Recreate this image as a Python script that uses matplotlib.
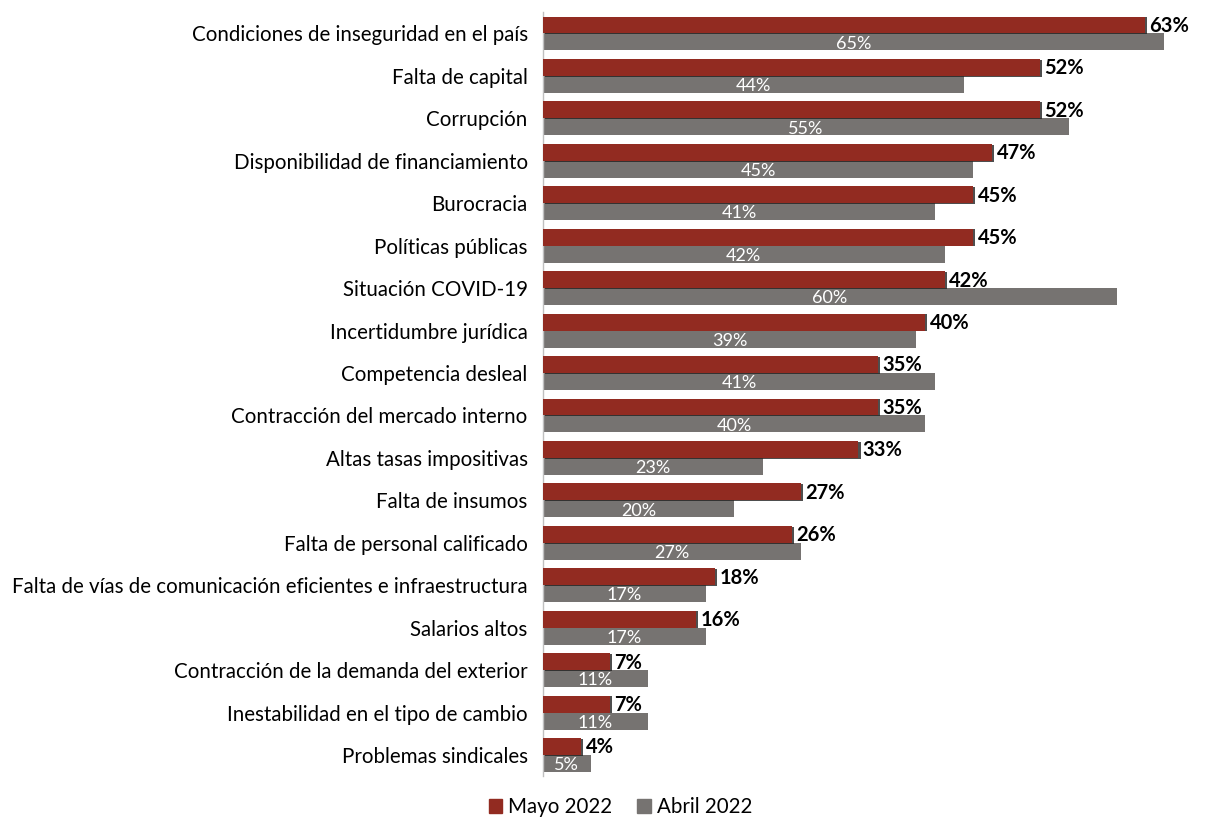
import matplotlib
matplotlib.use("Agg")
import matplotlib.pyplot as plt
import matplotlib.patheffects as pe
import matplotlib.patches as mpatches
import numpy as np

plt.rcParams['font.family'] = ['Lato', 'DejaVu Sans']

categories = [
    "Condiciones de inseguridad en el país",
    "Falta de capital",
    "Corrupción",
    "Disponibilidad de financiamiento",
    "Burocracia",
    "Políticas públicas",
    "Situación COVID-19",
    "Incertidumbre jurídica",
    "Competencia desleal",
    "Contracción del mercado interno",
    "Altas tasas impositivas",
    "Falta de insumos",
    "Falta de personal calificado",
    "Falta de vías de comunicación eficientes e infraestructura",
    "Salarios altos",
    "Contracción de la demanda del exterior",
    "Inestabilidad en el tipo de cambio",
    "Problemas sindicales",
]
mayo_2022 = [63, 52, 52, 47, 45, 45, 42, 40, 35, 35, 33, 27, 26, 18, 16, 7, 7, 4]
abril_2022 = [65, 44, 55, 45, 41, 42, 60, 39, 41, 40, 23, 20, 27, 17, 17, 11, 11, 5]
series_names = ["Mayo 2022", "Abril 2022"]

red = "#922B21"
gray = "#767371"

fig = plt.figure(figsize=(12.05, 8.18), dpi=100)
ax = fig.add_axes([0.4506, 0.051, 0.53, 0.934])

y = np.arange(len(categories))
h = 0.4
bars_m = ax.barh(y - h / 2, mayo_2022, height=h, color=red, zorder=3)
bars_a = ax.barh(y + h / 2, abril_2022, height=h, color=gray, zorder=2)
for b in bars_m:
    b.set_path_effects([pe.SimplePatchShadow(offset=(1.5, -0.5), shadow_rgbFace="#222222", alpha=0.8), pe.Normal()])

for yi, v in zip(y, mayo_2022):
    ax.text(v + 0.45, yi - h / 2 + 0.02, f"{v}%", ha="left", va="center",
            fontsize=14.5, fontweight="bold", color="black", zorder=4)
for yi, v in zip(y, abril_2022):
    ax.text(v / 2, yi + h / 2 + 0.04, f"{v}%", ha="center", va="center",
            fontsize=13, color="white", zorder=4)

ax.set_xlim(0, 66.8)
ax.set_ylim(len(categories) - 0.5, -0.5)
ax.set_yticks(y)
ax.set_yticklabels(categories, fontsize=14.8)
ax.tick_params(axis="y", length=0, pad=11)
ax.set_xticks([])
for s in ["top", "right", "bottom"]:
    ax.spines[s].set_visible(False)
ax.spines["left"].set_color("#bfbfbf")
ax.spines["left"].set_linewidth(1)

handles = [mpatches.Patch(color=red), mpatches.Patch(color=gray)]
fig.legend(handles=handles, labels=series_names, loc="center",
           bbox_to_anchor=(0.515, 0.013), ncol=2, frameon=False, fontsize=14.8,
           handlelength=0.65, handleheight=0.65, handletextpad=0.3, columnspacing=1.2)

fig.savefig("out.png", dpi=100, facecolor="white")
